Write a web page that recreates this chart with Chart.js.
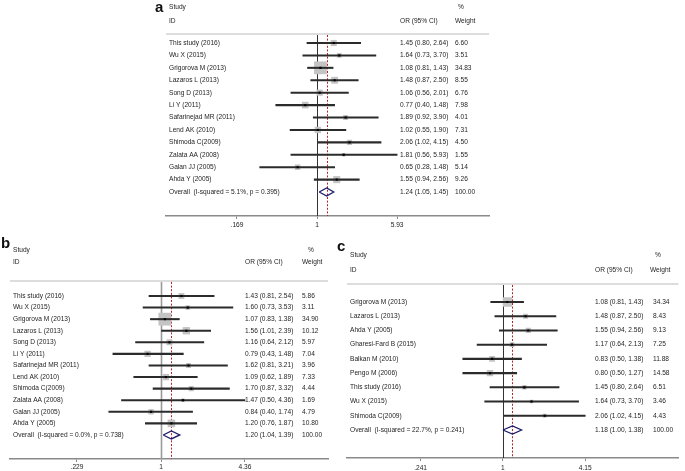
<!DOCTYPE html>
<html><head><meta charset="utf-8">
<script src="https://cdn.jsdelivr.net/npm/chart.js@4.4.1/dist/chart.umd.min.js"></script>
<style>
html,body{margin:0;padding:0;background:#fff;}
#wrap{position:relative;width:685px;height:471px;overflow:hidden;background:#fff;}
#wrap canvas{position:absolute;left:0;top:0;}
</style></head><body>
<div id="wrap">
<canvas id="ca" width="685" height="471"></canvas>
<canvas id="cb" width="685" height="471"></canvas>
<canvas id="cc" width="685" height="471"></canvas>
</div>
<script>
// ---------- DATA ----------
// Panel a
const studiesA = ['This study (2016)','Wu X (2015)','Grigorova M (2013)','Lazaros L (2013)','Song D (2013)','Li Y (2011)','Safarinejad MR (2011)','Lend AK (2010)','Shimoda C(2009)','Zalata AA (2008)','Galan JJ (2005)','Ahda Y (2005)'];
const orA = [1.45,1.64,1.08,1.48,1.06,0.77,1.89,1.02,2.06,1.81,0.65,1.55];
const loA = [0.80,0.73,0.81,0.87,0.56,0.40,0.92,0.55,1.02,0.56,0.28,0.94];
const hiA = [2.64,3.70,1.43,2.50,2.01,1.48,3.90,1.90,4.15,5.93,1.48,2.56];
const wA  = [6.60,3.51,34.83,8.55,6.76,7.98,4.01,7.31,4.50,1.55,5.14,9.26];
const overallA = [1.24,1.05,1.45];
const overallLabelA = 'Overall  (I-squared = 5.1%, p = 0.395)';
const tickValsA = [0.169,1,5.93];
const tickLabelsA = ['.169','1','5.93'];

// Panel b
const studiesB = ['This study (2016)','Wu X (2015)','Grigorova M (2013)','Lazaros L (2013)','Song D (2013)','Li Y (2011)','Safarinejad MR (2011)','Lend AK (2010)','Shimoda C(2009)','Zalata AA (2008)','Galan JJ (2005)','Ahda Y (2005)'];
const orB = [1.43,1.60,1.07,1.56,1.16,0.79,1.62,1.09,1.70,1.47,0.84,1.20];
const loB = [0.81,0.73,0.83,1.01,0.64,0.43,0.81,0.62,0.87,0.50,0.40,0.76];
const hiB = [2.54,3.53,1.38,2.39,2.12,1.48,3.21,1.89,3.32,4.36,1.74,1.87];
const wB  = [5.86,3.11,34.90,10.12,5.97,7.04,3.96,7.33,4.44,1.69,4.79,10.80];
const overallB = [1.20,1.04,1.39];
const overallLabelB = 'Overall  (I-squared = 0.0%, p = 0.738)';
const tickValsB = [0.229,1,4.36];
const tickLabelsB = ['.229','1','4.36'];

// Panel c
const studiesC = ['Grigorova M (2013)','Lazaros L (2013)','Ahda Y (2005)','Gharesi-Fard B (2015)','Balkan M (2010)','Pengo M (2006)','This study (2016)','Wu X (2015)','Shimoda C(2009)'];
const orC = [1.08,1.48,1.55,1.17,0.83,0.80,1.45,1.64,2.06];
const loC = [0.81,0.87,0.94,0.64,0.50,0.50,0.80,0.73,1.02];
const hiC = [1.43,2.50,2.56,2.13,1.38,1.27,2.64,3.70,4.15];
const wC  = [34.34,8.43,9.13,7.25,11.88,14.58,6.51,3.46,4.43];
const overallC = [1.18,1.00,1.38];
const overallLabelC = 'Overall  (I-squared = 22.7%, p = 0.241)';
const tickValsC = [0.241,1,4.15];
const tickLabelsC = ['.241','1','4.15'];

// ---------- LAYOUT / STYLE ----------
const FONT = 'Liberation Sans, Arial, sans-serif';
const TXT = 6.6;

const panels = [
  {id:'ca', letter:'a', studies:studiesA, or:orA, lo:loA, hi:hiA, w:wA, overall:overallA, overallLabel:overallLabelA, tickVals:tickValsA, tickLabels:tickLabelsA,
   L:166, R:489, T:34, B:216, x1:317, k:45, row0:43, rowStep:12.42,
   nameX:169, orX:400, wX:455, pctX:458, wHdrX:455, hdrY1:7.5, hdrY2:21, letterX:155, letterY:12,
   boxA:2.0, boxB:1.0, refColor:'#333', refWidth:1, tickPad:2},
  {id:'cb', letter:'b', studies:studiesB, or:orB, lo:loB, hi:hiB, w:wB, overall:overallB, overallLabel:overallLabelB, tickVals:tickValsB, tickLabels:tickLabelsB,
   L:10, R:328, T:281, B:459, x1:161, k:57, row0:296, rowStep:11.58,
   nameX:13, orX:245, wX:302, pctX:308, wHdrX:302, hdrY1:250, hdrY2:262, letterX:1, letterY:248,
   boxA:2.0, boxB:1.0, refColor:'#9a9a9a', refWidth:1.6, tickPad:1},
  {id:'cc', letter:'c', studies:studiesC, or:orC, lo:loC, hi:hiC, w:wC, overall:overallC, overallLabel:overallLabelC, tickVals:tickValsC, tickLabels:tickLabelsC,
   L:347, R:685, T:284, B:458, x1:506, k:59, row0:302, rowStep:14.22,
   nameX:350, orX:595, wX:653, pctX:655, wHdrX:650, hdrY1:255, hdrY2:270, letterX:337, letterY:251,
   boxA:1.45, boxB:0.8, refColor:'#333', refWidth:1, tickPad:3}
];

const fmt = v => v.toFixed(2);

function forestPlugin(p){
  return {
    id:'forest_'+p.letter,
    beforeDatasetsDraw(chart){
      const {ctx, chartArea:ca, scales:{x}} = chart;
      ctx.save();
      ctx.strokeStyle = '#d2d2d2'; ctx.lineWidth = 1.6;
      ctx.beginPath(); ctx.moveTo(ca.left, ca.top); ctx.lineTo(ca.right, ca.top); ctx.stroke();
      const px1 = Math.round(x.getPixelForValue(1)) + 0.5;
      ctx.strokeStyle = p.refColor; ctx.lineWidth = p.refWidth;
      ctx.beginPath(); ctx.moveTo(px1, ca.top + 1); ctx.lineTo(px1, ca.bottom); ctx.stroke();
      const pe = Math.round(x.getPixelForValue(p.overall[0])) + 0.5;
      ctx.strokeStyle = '#b52222'; ctx.lineWidth = 1; ctx.setLineDash([2,1.6]);
      ctx.beginPath(); ctx.moveTo(pe, ca.top + 1); ctx.lineTo(pe, ca.bottom); ctx.stroke();
      ctx.restore();
    },
    afterDraw(chart){
      const {ctx, scales:{y}} = chart;
      ctx.save();
      ctx.fillStyle = '#111';
      ctx.font = 'bold 15px ' + FONT;
      ctx.textBaseline = 'alphabetic'; ctx.textAlign = 'left';
      ctx.fillText(p.letter, p.letterX, p.letterY);
      ctx.font = TXT + 'px ' + FONT;
      ctx.textBaseline = 'middle';
      ctx.fillStyle = '#1e1e1e';
      ctx.fillText('Study', p.nameX, p.hdrY1);
      ctx.fillText('ID', p.nameX, p.hdrY2);
      ctx.fillText('OR (95% CI)', p.orX, p.hdrY2);
      ctx.fillText('%', p.pctX, p.hdrY1);
      ctx.fillText('Weight', p.wHdrX, p.hdrY2);
      p.studies.forEach((s,i)=>{
        const py = y.getPixelForValue(i);
        ctx.fillText(s, p.nameX, py);
        ctx.fillText(fmt(p.or[i]) + ' (' + fmt(p.lo[i]) + ', ' + fmt(p.hi[i]) + ')', p.orX, py);
        ctx.fillText(p.w[i].toFixed(2), p.wX, py);
      });
      const n = p.studies.length;
      const py = y.getPixelForValue(n);
      ctx.fillText(p.overallLabel, p.nameX, py);
      ctx.fillText(fmt(p.overall[0]) + ' (' + fmt(p.overall[1]) + ', ' + fmt(p.overall[2]) + ')', p.orX, py);
      ctx.fillText((100).toFixed(2), p.wX, py);
      ctx.restore();
    }
  };
}

panels.forEach(p=>{
  const n = p.studies.length;
  const dh = 4 / p.rowStep; // diamond half height (row units)
  const xmin = Math.exp((p.L - p.x1) / p.k), xmax = Math.exp((p.R - p.x1) / p.k);
  const ymin = (p.T - p.row0) / p.rowStep, ymax = (p.B - p.row0) / p.rowStep;
  const AXH = 12;
  new Chart(document.getElementById(p.id), {
    data:{
      datasets:[
        {type:'scatter', label:'point', order:0,
         data:p.or.map((v,i)=>({x:v,y:i})),
         pointStyle:'rect', pointRadius:1.5, pointBackgroundColor:'#000', pointBorderWidth:0, pointHoverRadius:1.5},
        {type:'scatter', label:'overall', order:0, showLine:true, fill:false,
         data:[{x:p.overall[1],y:n},{x:p.overall[0],y:n-dh},{x:p.overall[2],y:n},{x:p.overall[0],y:n+dh},{x:p.overall[1],y:n}],
         borderColor:'#1c1c6b', borderWidth:1.3, pointRadius:0, pointHoverRadius:0, tension:0},
        {type:'bar', label:'CI', order:1, indexAxis:'y',
         data:p.lo.map((l,i)=>({x:[l,p.hi[i]], y:i})),
         backgroundColor:'#2b2b2b', borderWidth:0, barThickness:1.4},
        {type:'scatter', label:'box', order:2,
         data:p.or.map((v,i)=>({x:v,y:i})),
         pointStyle:'rect', pointRadius:p.w.map(v=>(p.boxA*Math.sqrt(v)+p.boxB)/Math.SQRT2),
         pointHoverRadius:p.w.map(v=>(p.boxA*Math.sqrt(v)+p.boxB)/Math.SQRT2),
         pointBackgroundColor:'#c4c4c4', pointBorderWidth:0}
      ]
    },
    options:{
      responsive:false, animation:false, events:[],
      layout:{padding:{left:p.L, right:685 - p.R, top:p.T, bottom:471 - p.B - AXH}},
      plugins:{legend:{display:false}, tooltip:{enabled:false}},
      scales:{
        x:{type:'logarithmic', position:'bottom', min:xmin, max:xmax, bounds:'data', offset:false,
           afterBuildTicks:(axis)=>{ axis.ticks = p.tickVals.map(v=>({value:v})); },
           afterFit:(s)=>{ s.height = AXH; },
           ticks:{autoSkip:false, maxRotation:0, padding:p.tickPad, color:'#222', font:{family:FONT, size:TXT},
                  callback:(v)=>{ const j = p.tickVals.indexOf(v); return j >= 0 ? p.tickLabels[j] : ''; }},
           grid:{display:true, offset:false, drawOnChartArea:false, drawTicks:true, tickLength:3, color:'#8a8a8a', lineWidth:1},
           border:{display:true, color:'#8a8a8a', width:1.5}},
        y:{type:'linear', display:false, reverse:true, min:ymin, max:ymax, bounds:'data', offset:false, grid:{offset:false}}
      }
    },
    plugins:[forestPlugin(p)]
  });
});
</script>
</body></html>
